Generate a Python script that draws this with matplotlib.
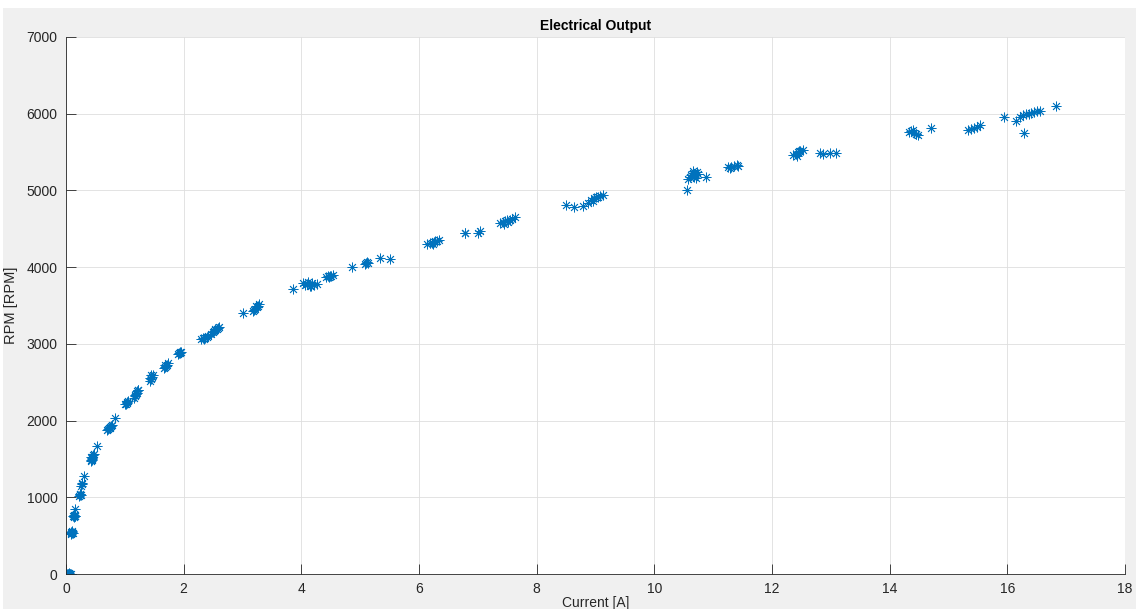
import matplotlib.pyplot as plt
from matplotlib.patches import Rectangle

# measured points, grouped roughly by operating point
current = [
    0.02, 0.03, 0.04, 0.05, 0.06, 0.07, 0.08, 0.05,
    0.08, 0.09, 0.10, 0.11, 0.12, 0.09, 0.10,
    0.12, 0.13, 0.14, 0.15, 0.16, 0.14,
    0.16,
    0.22, 0.23, 0.24, 0.25, 0.23,
    0.26, 0.27, 0.28,
    0.30,
    0.42, 0.43, 0.44, 0.45, 0.46, 0.47, 0.44, 0.45, 0.43,
    0.52,
    0.70, 0.72, 0.73, 0.75, 0.76, 0.78, 0.74,
    0.84,
    1.01, 1.03, 1.05, 1.04, 1.02,
    1.15, 1.17, 1.19, 1.20, 1.21, 1.22, 1.18, 1.23,
    1.42, 1.44, 1.46, 1.48, 1.45, 1.43,
    1.66, 1.68, 1.70, 1.72, 1.74, 1.69,
    1.90, 1.92, 1.94, 1.96, 1.93,
    2.30, 2.33, 2.36, 2.39, 2.42, 2.35,
    2.47, 2.50, 2.52, 2.54, 2.56, 2.58, 2.60, 2.53,
    3.00,
    3.17, 3.20, 3.22, 3.24, 3.26, 3.28, 3.23,
    3.85,
    4.02, 4.06, 4.10, 4.14, 4.18, 4.22, 4.26, 4.12, 4.16,
    4.42, 4.45, 4.48, 4.51, 4.54, 4.47,
    4.86,
    5.08, 5.10, 5.12, 5.14,
    5.34, 5.51,
    6.14, 6.18, 6.22, 6.26, 6.30, 6.34, 6.24, 6.28,
    6.79, 6.78, 7.01, 7.03,
    7.38, 7.42, 7.46, 7.50, 7.54, 7.58, 7.63, 7.45, 7.52,
    8.50, 8.63, 8.78, 8.88,
    8.93, 8.97, 9.00, 9.04, 9.08, 9.13, 8.95,
    10.56,
    10.58, 10.62, 10.65, 10.68, 10.72, 10.75, 10.60, 10.66, 10.70,
    10.87,
    11.25, 11.30, 11.35, 11.40, 11.42, 11.28,
    12.36, 12.40, 12.44, 12.48, 12.52, 12.42, 12.46,
    12.82, 12.86, 12.99, 13.08,
    14.33, 14.37, 14.41, 14.45, 14.49, 14.40, 14.44,
    14.70,
    15.33, 15.38, 15.43, 15.48, 15.53,
    15.95, 16.14, 16.29,
    16.21, 16.26, 16.31, 16.36, 16.41, 16.46, 16.50, 16.55,
    16.83,
]
rpm = [
    0, 5, 0, 3, 0, 2, 0, 8,
    530, 545, 540, 550, 535, 520, 555,
    750, 760, 745, 755, 760, 770,
    845,
    1020, 1035, 1040, 1030, 1045,
    1150, 1175, 1190,
    1280,
    1470, 1490, 1510, 1530, 1550, 1560, 1480, 1500, 1520,
    1665,
    1880, 1890, 1905, 1915, 1925, 1940, 1900,
    2040,
    2220, 2235, 2250, 2240, 2215,
    2300, 2320, 2340, 2360, 2380, 2400, 2330, 2395,
    2520, 2540, 2570, 2590, 2600, 2555,
    2690, 2700, 2715, 2730, 2745, 2725,
    2865, 2880, 2890, 2900, 2875,
    3060, 3070, 3080, 3090, 3100, 3065,
    3130, 3150, 3165, 3180, 3195, 3210, 3225, 3200,
    3407,
    3430, 3445, 3460, 3480, 3495, 3515, 3500,
    3710,
    3790, 3770, 3780, 3760, 3795, 3770, 3785, 3800, 3750,
    3870, 3880, 3885, 3890, 3900, 3875,
    4005,
    4040, 4060, 4070, 4050,
    4115, 4110,
    4300, 4310, 4320, 4330, 4340, 4355, 4300, 4345,
    4450, 4440, 4440, 4465,
    4570, 4585, 4600, 4610, 4620, 4630, 4650, 4560, 4590,
    4810, 4790, 4800, 4830,
    4880, 4900, 4920, 4910, 4930, 4940, 4860,
    5005,
    5150, 5200, 5230, 5180, 5240, 5210, 5170, 5250, 5160,
    5170,
    5300, 5310, 5320, 5330, 5315, 5290,
    5460, 5480, 5500, 5520, 5530, 5450, 5510,
    5485, 5475, 5490, 5490,
    5760, 5770, 5750, 5740, 5720, 5790, 5730,
    5820,
    5790, 5800, 5810, 5830, 5850,
    5960, 5910, 5745,
    5960, 5980, 5990, 6000, 6010, 6025, 6040, 6030,
    6100,
]

plt.rcParams['font.family'] = ['Liberation Sans', 'DejaVu Sans']

fig = plt.figure(figsize=(11.36, 6.09), dpi=100, facecolor='#f0f0f0')
# thin white border like the screenshot
fig.patches.append(Rectangle((0, 1 - 8 / 609), 1, 8 / 609, transform=fig.transFigure,
                             facecolor='white', edgecolor='none', zorder=-1))
fig.patches.append(Rectangle((0, 0), 3 / 1136, 1, transform=fig.transFigure,
                             facecolor='white', edgecolor='none', zorder=-1))

ax = fig.add_axes([66 / 1136, 1 - 574 / 609, 1059 / 1136, 537 / 609])
ax.set_facecolor('white')

ax.plot(current, rpm, linestyle='none', marker=(8, 2, 0), markersize=7,
        markeredgewidth=0.6, color='#0072BD')

ax.set_xlim(0, 18)
ax.set_ylim(0, 7000)
ax.set_xticks(range(0, 19, 2))
ax.set_yticks(range(0, 7001, 1000))

ax.grid(True, color='#dedede', linewidth=0.6)
ax.set_axisbelow(True)
for side in ['top', 'right']:
    ax.spines[side].set_visible(False)
for side in ['left', 'bottom']:
    ax.spines[side].set_color('#262626')
    ax.spines[side].set_linewidth(0.6)
ax.tick_params(direction='in', length=7, width=0.6, colors='#262626', labelsize=10, pad=6)

ax.set_title('Electrical Output', fontsize=10, fontweight='bold', color='black', pad=5)
ax.set_xlabel('Current [A]', fontsize=10, color='#262626', labelpad=0)
ax.set_ylabel('RPM [RPM]', fontsize=10.5, color='#262626', labelpad=6)

fig.savefig('out.png', dpi=100, facecolor=fig.get_facecolor())
